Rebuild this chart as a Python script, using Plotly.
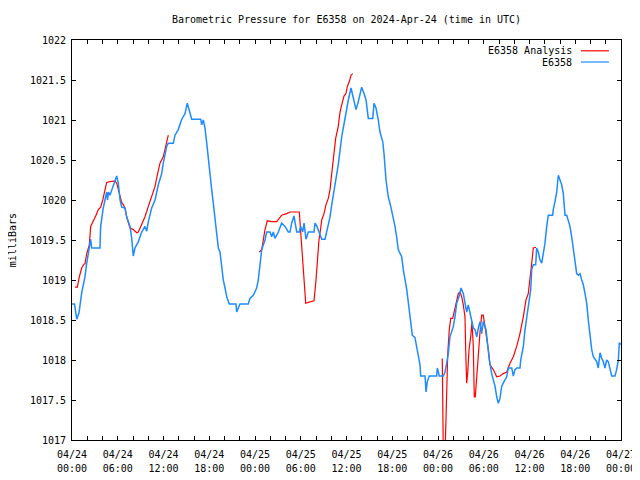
import pandas as pd
import plotly.graph_objects as go

# ---------------- data (hours after 2024-04-24 00:00 UTC, pressure in mb) ----------------
station_hours = [
    0.0, 0.33, 0.62, 0.79, 0.92, 1.27, 1.70, 1.93, 2.27, 2.45, 2.58, 3.67, 3.71, 3.76,
    4.10, 4.33, 4.55, 4.66, 4.79, 4.98, 5.42, 5.86, 6.07, 6.30, 6.52, 6.95, 7.17, 7.61,
    7.83, 8.04, 8.26, 8.70, 9.14, 9.57, 9.80, 10.01, 10.45, 10.89, 11.32, 11.76, 11.97,
    12.20, 12.42, 12.63, 13.29, 13.51, 13.94, 14.39, 14.82, 15.12, 15.38, 15.70, 16.88,
    17.01, 17.22, 17.44, 17.67, 17.88, 18.10, 18.32, 18.53, 18.75, 18.98, 19.19, 19.41,
    19.63, 19.84, 20.07, 20.29, 20.63, 21.51, 21.60, 21.81, 22.03, 23.12, 23.34, 23.78,
    24.22, 24.43, 24.66, 24.88, 25.31, 25.53, 25.97, 26.19, 26.40, 26.62, 27.06, 27.50,
    27.93, 28.37, 28.59, 28.81, 29.11, 29.47, 29.81, 29.99, 30.26, 30.43, 30.69, 30.99,
    31.74, 31.87, 32.13, 32.43, 32.75, 33.18, 33.40, 33.57, 33.84, 34.06, 34.49, 34.92,
    35.37, 35.80, 36.24, 36.59, 36.89, 37.25, 37.55, 37.99, 38.30, 38.56, 38.86, 39.44,
    39.61, 39.87, 40.17, 40.39, 40.75, 40.92, 41.18, 41.48, 41.80, 42.14, 42.36, 42.58,
    42.79, 43.24, 43.45, 43.90, 44.11, 44.33, 44.63, 44.98, 45.21, 45.42, 45.64, 45.73,
    46.30, 46.43, 46.60, 46.86, 47.83, 47.91, 48.17, 48.70, 48.92, 49.14, 49.35, 49.57,
    49.80, 50.01, 50.23, 50.45, 50.75, 51.02, 51.32, 51.54, 51.76, 51.97, 52.20, 52.42,
    52.63, 52.85, 53.08, 53.29, 53.51, 53.73, 53.94, 54.30, 54.47, 54.73, 55.04, 55.25,
    55.48, 55.70, 55.91, 56.13, 56.35, 56.56, 56.79, 57.01, 57.22, 57.67, 57.88, 58.10,
    58.32, 58.75, 58.85, 59.19, 59.41, 59.63, 59.97, 60.16, 60.29, 60.50, 60.81, 60.94,
    61.15, 61.38, 61.60, 61.81, 62.03, 62.26, 62.47, 63.04, 63.12, 63.34, 63.57, 63.78,
    64.00, 64.22, 64.43, 64.66, 64.88, 65.09, 65.31, 65.53, 65.74, 65.97, 66.19, 66.40,
    66.62, 66.85, 67.06, 67.28, 67.50, 67.71, 67.93, 68.16, 68.37, 68.59, 68.81, 69.02,
    69.25, 69.47, 69.68, 69.90, 70.12, 70.33, 70.56, 70.78, 71.21, 71.43, 71.65, 71.78,
    72.0,
]
station_mb = [
    1018.70, 1018.70, 1018.51, 1018.55, 1018.59, 1018.84, 1019.04, 1019.21, 1019.40, 1019.51,
    1019.40, 1019.40, 1019.55, 1019.67, 1019.90, 1020.02, 1020.10, 1020.00, 1020.10, 1020.06,
    1020.17, 1020.30, 1020.21, 1020.00, 1019.91, 1019.90, 1019.79, 1019.67, 1019.52, 1019.30,
    1019.40, 1019.48, 1019.60, 1019.67, 1019.61, 1019.73, 1019.90, 1020.00, 1020.19, 1020.33,
    1020.46, 1020.56, 1020.67, 1020.71, 1020.71, 1020.81, 1020.88, 1021.01, 1021.08, 1021.21,
    1021.13, 1021.01, 1021.01, 1020.94, 1021.00, 1020.90, 1020.71, 1020.50, 1020.31, 1020.13,
    1019.96, 1019.79, 1019.63, 1019.40, 1019.35, 1019.17, 1019.00, 1018.90, 1018.79, 1018.70,
    1018.70, 1018.60, 1018.65, 1018.70, 1018.70, 1018.77, 1018.81, 1018.90, 1019.00, 1019.21,
    1019.38, 1019.50, 1019.60, 1019.60, 1019.54, 1019.60, 1019.52, 1019.60, 1019.71, 1019.67,
    1019.60, 1019.60, 1019.71, 1019.80, 1019.60, 1019.60, 1019.67, 1019.60, 1019.71, 1019.51,
    1019.60, 1019.60, 1019.71, 1019.67, 1019.60, 1019.51, 1019.51, 1019.60, 1019.67, 1019.79,
    1019.94, 1020.17, 1020.44, 1020.79, 1021.04, 1021.25, 1021.40, 1021.27, 1021.13, 1021.23,
    1021.41, 1021.33, 1021.25, 1021.02, 1021.02, 1021.21, 1021.15, 1021.00, 1020.85, 1020.73,
    1020.58, 1020.25, 1020.04, 1019.92, 1019.79, 1019.67, 1019.54, 1019.38, 1019.29, 1019.13,
    1018.88, 1018.71, 1018.54, 1018.31, 1018.28, 1018.15, 1018.04, 1017.94, 1017.80, 1017.80,
    1017.60, 1017.73, 1017.80, 1017.80, 1017.90, 1017.80, 1017.80, 1017.85, 1017.96, 1018.08,
    1018.29, 1018.35, 1018.42, 1018.54, 1018.71, 1018.79, 1018.90, 1018.83, 1018.69, 1018.60,
    1018.69, 1018.58, 1018.48, 1018.40, 1018.38, 1018.29, 1018.40, 1018.48, 1018.33, 1018.48,
    1018.38, 1018.21, 1018.00, 1017.83, 1017.75, 1017.67, 1017.54, 1017.46, 1017.52, 1017.67,
    1017.71, 1017.75, 1017.79, 1017.90, 1017.90, 1017.80, 1017.88, 1017.90, 1017.90, 1018.00,
    1018.17, 1018.38, 1018.54, 1018.75, 1018.88, 1019.13, 1019.19, 1019.19, 1019.40, 1019.35,
    1019.25, 1019.21, 1019.33, 1019.46, 1019.67, 1019.81, 1019.81, 1019.88, 1019.98, 1020.10,
    1020.31, 1020.25, 1020.19, 1020.08, 1019.81, 1019.81, 1019.75, 1019.67, 1019.54, 1019.38,
    1019.25, 1019.08, 1019.06, 1019.08, 1019.00, 1018.94, 1018.83, 1018.71, 1018.50, 1018.29,
    1018.13, 1018.04, 1018.00, 1017.98, 1017.90, 1018.09, 1018.02, 1017.98, 1017.90, 1018.00,
    1017.98, 1017.90, 1017.80, 1017.80, 1017.88, 1018.00, 1018.21, 1018.20,
]

# analysis series: three separate runs, separated by None (gaps)
analysis_hours = [
    0.39, 0.70, 0.96, 1.27, 1.57, 1.70, 1.93, 2.27, 2.45, 2.79, 3.15, 3.45, 3.76, 4.03,
    4.33, 4.55, 4.98, 5.64, 5.86, 6.07, 6.30, 6.52, 6.73, 6.95, 7.17, 7.38, 7.61, 8.04,
    8.49, 8.70, 8.92, 9.14, 9.57, 10.01, 10.45, 10.89, 11.19, 11.54, 11.97, 12.20, 12.42,
    12.63,
    None,
    24.56, 24.88, 25.09, 25.31, 25.61, 26.19, 26.85, 27.19, 27.50, 28.16, 28.59, 29.81,
    29.99, 30.20, 30.43, 30.65, 30.99, 31.74, 32.00, 32.17, 32.39, 32.62, 32.75, 33.05,
    33.31, 33.61, 33.84, 34.06, 34.27, 34.58, 34.92, 35.15, 35.37, 35.67, 35.93, 36.11,
    36.37, 36.59, 36.81,
    None,
    48.56, 48.70, 48.92, 49.05, 49.14, 49.27, 49.48, 49.67, 49.93, 50.10, 50.36, 50.66,
    50.89, 51.11, 51.32, 51.54, 51.63, 51.76, 51.89, 52.07, 52.29, 52.46, 52.63, 52.76,
    52.89, 53.08, 53.29, 53.51, 53.73, 53.94, 54.16, 54.39, 54.60, 54.82, 55.25, 55.70,
    56.13, 56.56, 57.01, 57.44, 57.88, 58.32, 58.75, 59.19, 59.54, 59.84, 60.07, 60.29,
    60.50, 60.85,
]
analysis_mb = [
    1018.91, 1018.91, 1019.04, 1019.15, 1019.20, 1019.20, 1019.33, 1019.44, 1019.67, 1019.73,
    1019.81, 1019.88, 1019.91, 1020.00, 1020.15, 1020.22, 1020.23, 1020.24, 1020.21, 1020.13,
    1020.04, 1019.97, 1019.94, 1019.90, 1019.79, 1019.71, 1019.65, 1019.63, 1019.59, 1019.60,
    1019.65, 1019.71, 1019.79, 1019.92, 1020.06, 1020.17, 1020.31, 1020.46, 1020.54, 1020.63,
    1020.71, 1020.81,
    None,
    1019.35, 1019.38, 1019.50, 1019.63, 1019.74, 1019.73, 1019.73, 1019.78, 1019.81, 1019.83,
    1019.85, 1019.85, 1019.58, 1019.38, 1019.00, 1018.71, 1018.72, 1018.74, 1019.00, 1019.25,
    1019.50, 1019.65, 1019.75, 1019.83, 1019.94, 1020.02, 1020.13, 1020.33, 1020.54, 1020.77,
    1020.92, 1021.10, 1021.19, 1021.30, 1021.33, 1021.42, 1021.48, 1021.56, 1021.58,
    None,
    1018.02, 1016.80, 1016.80, 1017.33, 1017.63, 1018.06, 1018.38, 1018.52, 1018.52, 1018.60,
    1018.71, 1018.83, 1018.85, 1018.79, 1018.69, 1018.54, 1018.13, 1017.71, 1017.83, 1018.13,
    1018.29, 1018.48, 1018.17, 1017.54, 1017.54, 1017.79, 1018.13, 1018.35, 1018.56, 1018.56,
    1018.42, 1018.29, 1018.13, 1017.94, 1017.88, 1017.79, 1017.80, 1017.83, 1017.85, 1017.96,
    1018.04, 1018.17, 1018.33, 1018.54, 1018.75, 1018.83, 1019.00, 1019.21, 1019.40, 1019.41,
]

start = pd.Timestamp("2024-04-24 00:00")
tick_hours = list(range(0, 73, 2))
label_every = 6
date_labels = ["04/24", "04/24", "04/24", "04/24", "04/25", "04/25", "04/25", "04/25",
               "04/26", "04/26", "04/26", "04/26", "04/27"]
time_labels = ["00:00", "06:00", "12:00", "18:00"] * 3 + ["00:00"]
y_ticks = [1017, 1017.5, 1018, 1018.5, 1019, 1019.5, 1020, 1020.5, 1021, 1021.5, 1022]
y_labels = ["1017", "1017.5", "1018", "1018.5", "1019", "1019.5", "1020", "1020.5",
            "1021", "1021.5", "1022"]

title_text = "Barometric Pressure for E6358 on 2024-Apr-24 (time in UTC)"
ylabel_text = "milliBars"
series_names = ["E6358 Analysis", "E6358"]
series_colors = ["#ff0000", "#1e8cff"]


def to_time(hours):
    return [None if h is None else start + pd.Timedelta(hours=h) for h in hours]


FONT = "DejaVu Sans Mono"
# the page body has an 8px margin; the figure is sized so the plot frame lands
# on x 72..621, y 40..440 of the 640x480 window
PAGE_OFF = 8
FIG_W, FIG_H = 640 - PAGE_OFF, 480 - PAGE_OFF

fig = go.Figure()
fig.add_trace(go.Scatter(x=to_time(analysis_hours), y=analysis_mb, mode="lines",
                         name=series_names[0], line=dict(color=series_colors[0], width=1.2),
                         connectgaps=False, showlegend=False))
fig.add_trace(go.Scatter(x=to_time(station_hours), y=station_mb, mode="lines",
                         name=series_names[1], line=dict(color=series_colors[1], width=1.5),
                         showlegend=False))

tickvals = [start + pd.Timedelta(hours=h) for h in tick_hours]
date_text, time_text = [], []
for h in tick_hours:
    if h % label_every == 0:
        i = h // label_every
        date_text.append(date_labels[i])
        time_text.append(time_labels[i])
    else:
        date_text.append("")
        time_text.append("")

x_range = [start, start + pd.Timedelta(hours=72)]
fig.update_layout(
    xaxis=dict(range=x_range, tickmode="array", tickvals=tickvals, ticktext=date_text,
               ticks="inside", ticklen=4, tickcolor="black", showline=True,
               linecolor="black", linewidth=1, mirror="ticks", showgrid=False,
               zeroline=False, automargin=False, ticklabelstandoff=5,
               tickfont=dict(family=FONT, size=10, color="black")),
    xaxis2=dict(range=x_range, overlaying="x", side="bottom", anchor="y",
                tickmode="array", tickvals=tickvals, ticktext=time_text, ticks="",
                showline=False, showgrid=False, zeroline=False, automargin=False,
                ticklabelstandoff=21, tickfont=dict(family=FONT, size=10, color="black")),
    yaxis=dict(range=[1017, 1022], tickmode="array", tickvals=y_ticks, ticktext=y_labels,
               ticks="inside", ticklen=4, tickcolor="black", showline=True,
               linecolor="black", linewidth=1, mirror="ticks", showgrid=False,
               zeroline=False, automargin=False, ticklabelstandoff=3,
               tickfont=dict(family=FONT, size=10, color="black")),
)
# invisible carrier so the second (time-of-day) label axis is drawn
fig.add_trace(go.Scatter(x=[x_range[0]], y=[None], xaxis="x2", yaxis="y", mode="lines",
                         showlegend=False, hoverinfo="skip"))

# gnuplot-style key: text on the left, line sample on the right
key_rows_y = [0.973, 0.945]
for name, color, yk in zip(series_names, series_colors, key_rows_y):
    fig.add_annotation(x=0.9145, y=yk, xref="paper", yref="paper", text=name,
                       showarrow=False, xanchor="right", yanchor="middle",
                       font=dict(family=FONT, size=10, color="black"))
    fig.add_shape(type="line", xref="paper", yref="paper", x0=0.927, x1=0.978,
                  y0=yk, y1=yk, line=dict(color=color, width=1.2))

fig.add_annotation(x=-0.109, y=0.5, xref="paper", yref="paper", text=ylabel_text,
                   textangle=-90, showarrow=False, xanchor="center", yanchor="middle",
                   font=dict(family=FONT, size=10, color="black"))

fig.update_layout(
    width=FIG_W, height=FIG_H,
    margin=dict(l=72 - PAGE_OFF, r=640 - 621, t=40 - PAGE_OFF, b=40),
    paper_bgcolor="white", plot_bgcolor="white",
    title=dict(text=title_text, x=(346.5 - PAGE_OFF) / FIG_W, xanchor="center",
               y=1 - (19 - PAGE_OFF) / FIG_H, yanchor="middle",
               font=dict(family=FONT, size=10, color="black")),
    showlegend=False,
)

fig.write_html("out.html")
